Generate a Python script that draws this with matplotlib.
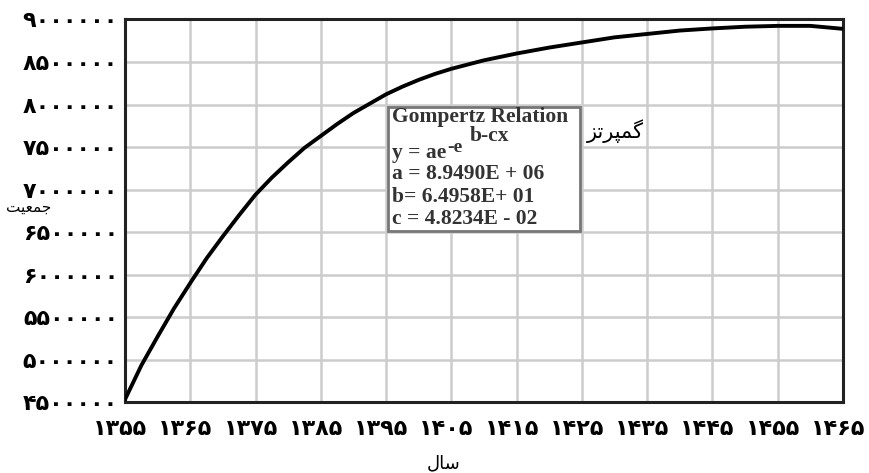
import matplotlib
matplotlib.use("Agg")
import matplotlib.pyplot as plt
import matplotlib.transforms as mtransforms
from matplotlib.patches import Rectangle

# ---- data ----
years = [1355, 1357.5, 1360, 1362.5, 1365, 1367.5, 1370, 1372.5, 1375, 1377.5,
         1380, 1382.5, 1385, 1387.5, 1390, 1392.5, 1395, 1397.5, 1400, 1402.5,
         1405, 1410, 1415, 1420, 1425, 1430, 1435, 1440, 1445, 1450, 1455,
         1460, 1465]
population = [4530000, 4930000, 5270000, 5600000, 5900000, 6190000, 6450000,
              6700000, 6940000, 7140000, 7320000, 7490000, 7630000, 7770000,
              7900000, 8010000, 8120000, 8210000, 8290000, 8360000, 8420000,
              8520000, 8600000, 8670000, 8730000, 8790000, 8830000, 8870000,
              8895000, 8915000, 8925000, 8925000, 8890000]

x_ticks = [1355, 1365, 1375, 1385, 1395, 1405, 1415, 1425, 1435, 1445, 1455, 1465]
x_tick_labels = ["۱۳۵۵", "۱۳۶۵", "۱۳۷۵", "۱۳۸۵", "۱۳۹۵", "۱۴۰۵", "۱۴۱۵",
                 "۱۴۲۵", "۱۴۳۵", "۱۴۴۵", "۱۴۵۵", "۱۴۶۵"]
y_ticks = [4500000, 5000000, 5500000, 6000000, 6500000, 7000000, 7500000,
           8000000, 8500000, 9000000]
y_tick_labels = ["۴۵۰۰۰۰۰", "۵۰۰۰۰۰۰", "۵۵۰۰۰۰۰", "۶۰۰۰۰۰۰", "۶۵۰۰۰۰۰",
                 "۷۰۰۰۰۰۰", "۷۵۰۰۰۰۰", "۸۰۰۰۰۰۰", "۸۵۰۰۰۰۰", "۹۰۰۰۰۰۰"]

box_title = "Gompertz Relation"
box_params = ["a = 8.9490E + 06", "b= 6.4958E+ 01", "c = 4.8234E - 02"]

# Persian words, pre-shaped with presentation forms (visual order)
label_x = "\uFEDD\uFE8E\uFEB3"                      # سال
label_y = "\uFE96\uFEF4\uFECC\uFEE4\uFE9F"          # جمعیت
label_curve = "\uFEB0\uFE97\uFEAE\uFB59\uFEE4\uFB94"  # گمپرتز

W, H = 869, 473
fig = plt.figure(figsize=(W / 100, H / 100), dpi=100)
fig.patch.set_facecolor("white")

def px(x, y):
    return x / W, 1 - y / H

l, r, t, b = 125, 843, 19.5, 402
ax = fig.add_axes([l / W, 1 - b / H, (r - l) / W, (b - t) / H])

ax.plot(years, population, color="black", lw=2.8, solid_capstyle="round",
        solid_joinstyle="round", zorder=3)

ax.set_xlim(1355, 1465)
ax.set_ylim(4500000, 9000000)
ax.set_xticks(x_ticks)
ax.set_yticks(y_ticks)
ax.set_xticklabels(x_tick_labels, fontsize=16, fontweight="bold", family="DejaVu Sans")
ax.set_yticklabels(y_tick_labels, fontsize=16, fontweight="bold", family="DejaVu Sans")
ax.tick_params(length=0, pad=5)
ax.tick_params(axis="x", pad=12)
offset = mtransforms.ScaledTranslation(-5 / 100, 0, fig.dpi_scale_trans)
for lab in ax.get_xticklabels():
    lab.set_transform(lab.get_transform() + offset)

ax.grid(True, color="#cccccc", lw=1.8, zorder=0)
for s in ax.spines.values():
    s.set_linewidth(2.2)
    s.set_color("#222222")

# text box
bx0, bx1, by0, by1 = 388, 580, 107, 231
fx0, fy0 = px(bx0, by1)
fx1, fy1 = px(bx1, by0)
rect = Rectangle((fx0, fy0), fx1 - fx0, fy1 - fy0, transform=fig.transFigure,
                 facecolor="white", edgecolor="#777777", lw=2, zorder=5)
fig.patches.append(rect)

tc = "#333333"
kw = dict(family="Liberation Serif", fontweight="bold", color=tc,
          va="baseline", ha="left", zorder=6)
fig.text(*px(392, 122), box_title, fontsize=15.5, **kw)
fig.text(*px(470, 141), "b-cx", fontsize=15.5, **kw)
t_y = fig.text(*px(392, 158), "y = ae", fontsize=15.5, **kw)
fig.canvas.draw()
ext = t_y.get_window_extent()
fig.text(ext.x1 / W + 1 / W, 1 - 152 / H, "-e", fontsize=14, **kw)
fig.text(*px(392, 179), box_params[0], fontsize=15.5, **kw)
fig.text(*px(392, 202), box_params[1], fontsize=15.5, **kw)
fig.text(*px(392, 224), box_params[2], fontsize=15.5, **kw)

fig.text(*px(587, 131), label_curve, fontsize=15, family="DejaVu Sans",
         ha="left", va="center", color="black")
fig.text(*px(6, 207), label_y, fontsize=11, family="DejaVu Sans",
         ha="left", va="center", color="black")
fig.text(*px(444, 463), label_x, fontsize=13, family="DejaVu Sans",
         ha="center", va="center", color="black")

fig.savefig("out.png", dpi=100)
